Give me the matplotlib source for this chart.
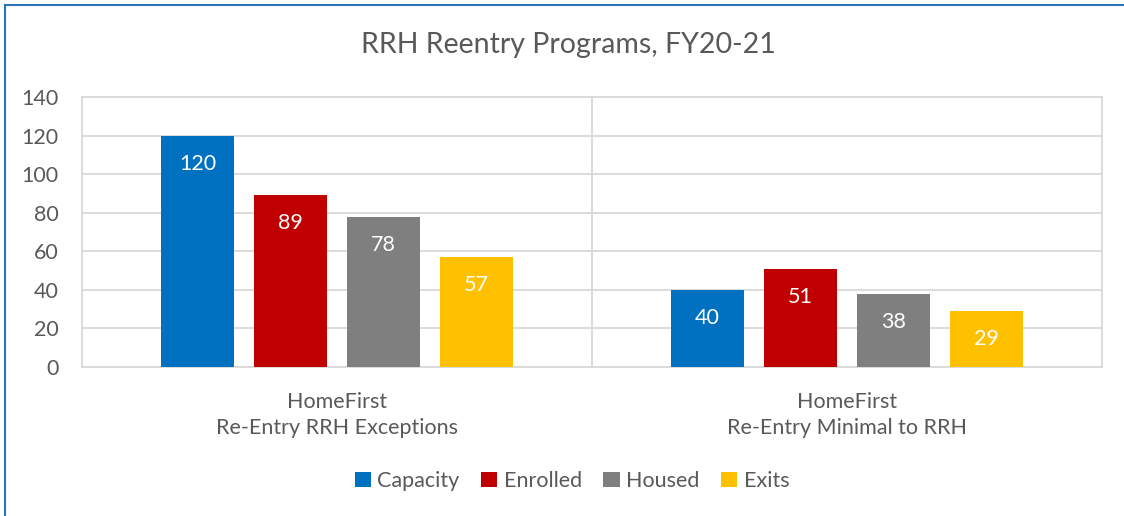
import matplotlib
matplotlib.use("Agg")
import matplotlib.pyplot as plt
import numpy as np
from matplotlib.lines import Line2D
from matplotlib.patches import Patch

plt.rcParams['font.family'] = ['Lato', 'DejaVu Sans']

categories = ["HomeFirst\nRe-Entry RRH Exceptions", "HomeFirst\nRe-Entry Minimal to RRH"]
series = ["Capacity", "Enrolled", "Housed", "Exits"]
capacity = [120, 40]
enrolled = [89, 51]
housed = [78, 38]
exits = [57, 29]
values = [capacity, enrolled, housed, exits]
colors = ["#0070C0", "#C00000", "#7F7F7F", "#FFC000"]
yticks = [0, 20, 40, 60, 80, 100, 120, 140]

TXT = "#595959"
GRID = "#D9D9D9"

fig = plt.figure(figsize=(11.24, 5.16), dpi=100)
W, H = 1124, 516
ax = fig.add_axes([82 / W, 1 - 367 / H, (1102 - 82) / W, (367 - 97) / H])

x = np.arange(len(categories))
bw = 73 / 510
step = 93 / 510
for i, (s, v, c) in enumerate(zip(series, values, colors)):
    pos = x + (i - 1.5) * step
    bars = ax.bar(pos, v, width=bw, color=c, label=s, zorder=3)
    for b, val in zip(bars, v):
        ax.annotate(str(val), (b.get_x() + b.get_width() / 2, val),
                    xytext=(0, -28), textcoords="offset pixels",
                    ha="center", va="center", color="white", fontsize=15.5, zorder=4)

ax.set_xlim(-0.5, 1.5)
ax.set_ylim(0, 140)
ax.set_yticks(yticks)
ax.set_yticklabels([str(t) for t in yticks], color=TXT, fontsize=15.5)
ax.tick_params(axis='y', length=0, pad=17)
ax.set_xticks([])
for t in yticks:
    ax.axhline(t, color=GRID, lw=1.3, zorder=1)
ax.axvline(0.5, color=GRID, lw=1.3, zorder=1)
for sp in ax.spines.values():
    sp.set_color(GRID)
    sp.set_linewidth(1.3)

for xi, cat in zip(x, categories):
    ax.annotate(cat, (xi, 0), xytext=(0, -48), textcoords="offset pixels",
                ha="center", va="center", color=TXT, fontsize=15.5,
                linespacing=1.42, annotation_clip=False)

fig.text(568 / W, 1 - 45 / H, "RRH Reentry Programs, FY20-21", ha="center", va="center",
         color=TXT, fontsize=20.5)

handles = [Patch(facecolor=c, edgecolor='none', label=s) for s, c in zip(series, colors)]
fig.legend(handles=handles, loc="center", bbox_to_anchor=(572 / W, 1 - 481 / H), ncol=4,
           frameon=False, fontsize=15.5, handlelength=0.75, handleheight=0.75,
           handletextpad=0.3, columnspacing=1.0, labelcolor=TXT)

# blue border (left and top)
fig.add_artist(Line2D([5 / W, 5 / W], [0, 1 - 5 / H], color="#2E75B6", lw=1.5))
fig.add_artist(Line2D([5 / W, 1], [1 - 5 / H, 1 - 5 / H], color="#2E75B6", lw=1.5))

fig.savefig("out.png", dpi=100, facecolor="white")
